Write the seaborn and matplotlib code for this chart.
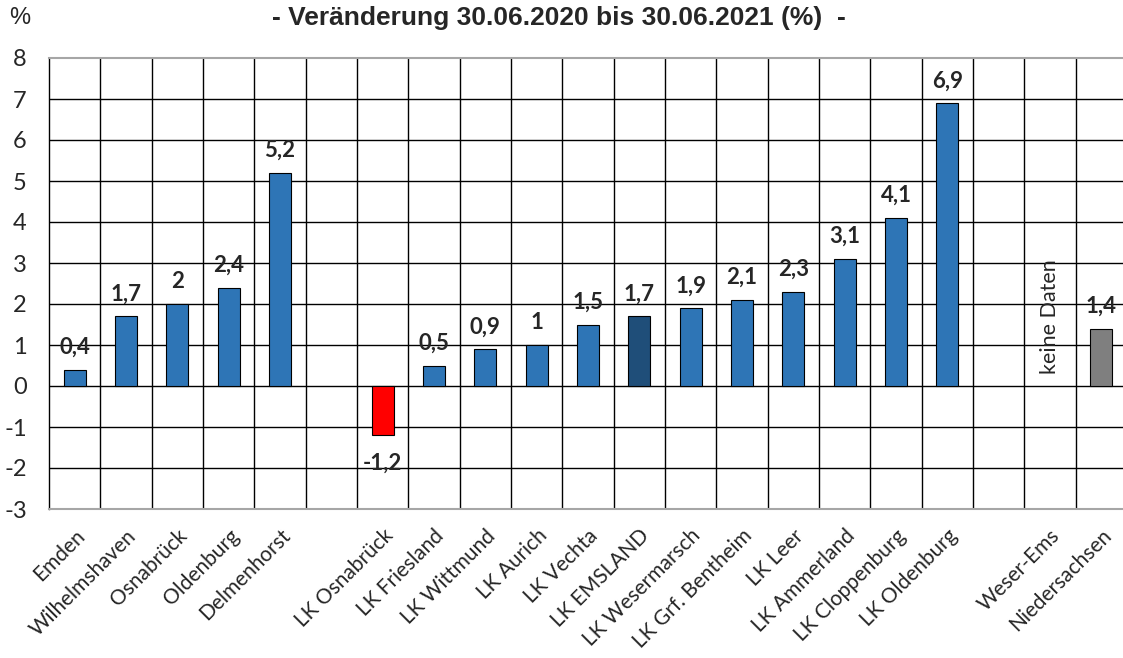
import numpy as np
import pandas as pd
import matplotlib
matplotlib.use('Agg')
import matplotlib.pyplot as plt
import seaborn as sns

# Kategorien inkl. Leerplaetze (Luecken im Diagramm)
kategorien = ["Emden", "Wilhelmshaven", "Osnabrück", "Oldenburg", "Delmenhorst", "",
              "LK Osnabrück", "LK Friesland", "LK Wittmund", "LK Aurich", "LK Vechta",
              "LK EMSLAND", "LK Wesermarsch", "LK Grf. Bentheim", "LK Leer", "LK Ammerland",
              "LK Cloppenburg", "LK Oldenburg", " ", "Weser-Ems", "Niedersachsen"]
werte = [0.4, 1.7, 2.0, 2.4, 5.2, np.nan,
         -1.2, 0.5, 0.9, 1.0, 1.5,
         1.7, 1.9, 2.1, 2.3, 3.1,
         4.1, 6.9, np.nan, np.nan, 1.4]
gruppe = ["kreisfrei"] * 5 + [""] + ["LK"] * 12 + ["", "", "NDS"]
gruppe[kategorien.index("LK Osnabrück")] = "negativ"
gruppe[kategorien.index("LK EMSLAND")] = "Emsland"
farben = {"kreisfrei": "#2E75B6", "LK": "#2E75B6", "negativ": "#FF0000",
          "Emsland": "#1F4E79", "NDS": "#7F7F7F"}
titel = "- Veränderung 30.06.2020 bis 30.06.2021 (%)  -"

df = pd.DataFrame({"kategorie": kategorien, "wert": werte, "gruppe": gruppe})
df_bars = df.dropna(subset=["wert"])

sns.set_theme(style="white")
plt.rcParams['font.family'] = ['Lato', 'DejaVu Sans']

fig = plt.figure(figsize=(11.23, 6.58), dpi=100)
ax = fig.add_axes([49 / 1123, 1 - 509 / 658, (1127 - 49) / 1123, (509 - 58) / 658])

sns.barplot(data=df_bars, x="kategorie", y="wert", hue="gruppe", order=kategorien,
            palette=farben, dodge=False, width=0.43, legend=False, saturation=1,
            edgecolor="black", linewidth=0.8, ax=ax, zorder=3)

ax.set_xlim(-0.5, len(kategorien) - 0.5)
ax.set_ylim(-3, 8)
ax.set_yticks(range(-3, 9))
ax.set_yticklabels([str(t) for t in range(-3, 9)], fontsize=17)
ax.set_xticks(range(len(kategorien)))
ax.set_xticklabels(kategorien, rotation=45, ha='right', rotation_mode='anchor', fontsize=15)
ax.set_xticks(np.arange(0.5, len(kategorien) - 1), minor=True)
ax.tick_params(axis='both', which='both', length=0)
ax.tick_params(axis='x', pad=12)
ax.tick_params(axis='y', pad=16)
ax.set_xlabel("")
ax.set_ylabel("")

# Gitternetz
ax.grid(False)
for y in range(-2, 8):
    ax.axhline(y, color="black", linewidth=1, zorder=1)
ax.grid(True, axis='x', which='minor', color="black", linewidth=1, zorder=1)
for s in ["top", "bottom"]:
    ax.spines[s].set_color("#A6A6A6")
    ax.spines[s].set_linewidth(1.5)
ax.spines["left"].set_color("black")
ax.spines["left"].set_linewidth(1)
ax.spines["right"].set_visible(False)

# Wertbeschriftungen
for i, (k, v) in enumerate(zip(kategorien, werte)):
    if np.isnan(v):
        continue
    txt = f"{v:g}".replace(".", ",")
    off = 16 if v >= 0 else -20
    ax.annotate(txt, (i, v), xytext=(0, off), textcoords='offset points',
                ha='center', va='center', fontsize=16, fontweight='bold', zorder=4)

ax.text(kategorien.index("Weser-Ems"), 0.3, "keine Daten", rotation=90,
        ha='center', va='bottom', fontsize=15.5, zorder=4)

fig.text(559 / 1123, 1 - 18 / 658, titel, ha='center', va='center', fontsize=19,
         fontweight='bold', family=['Liberation Sans', 'DejaVu Sans'])
fig.text(20 / 1123, 1 - 18 / 658, "%", ha='center', va='center', fontsize=17,
         family=['Liberation Sans', 'DejaVu Sans'])

plt.savefig("out.png", dpi=100)
